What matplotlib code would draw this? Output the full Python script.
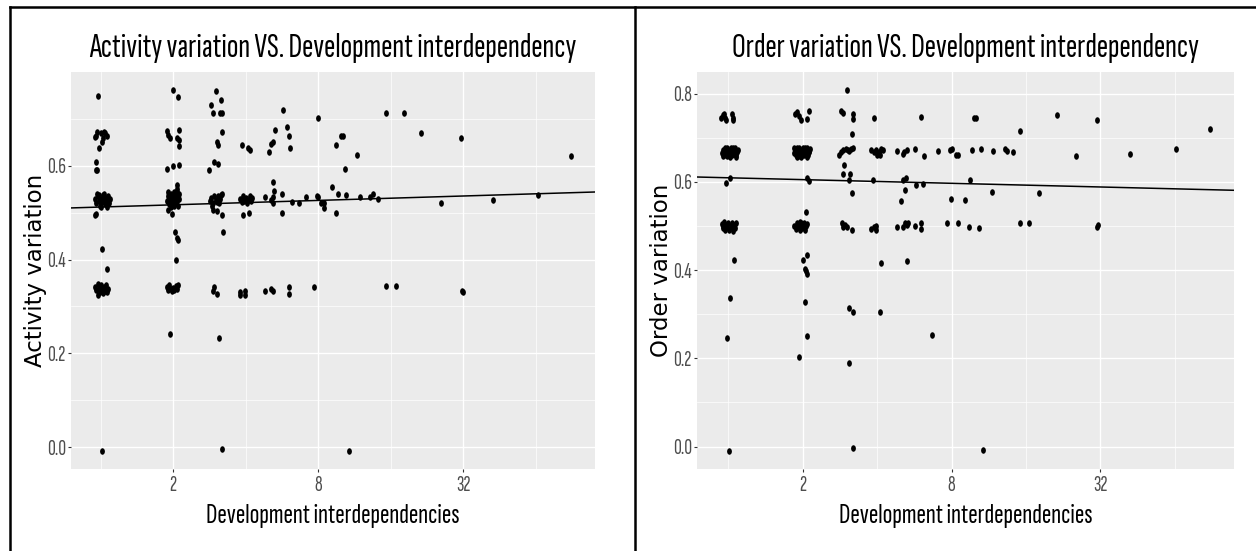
import numpy as np
import matplotlib
matplotlib.use('Agg')
import matplotlib.pyplot as plt
from matplotlib.path import Path
from matplotlib.lines import Line2D
from matplotlib.ticker import FixedLocator, NullFormatter
from matplotlib import font_manager as fm
from matplotlib.font_manager import FontProperties
from matplotlib.textpath import TextPath

# ---------------- data (jittered positions) ----------------
act_x = [
    0.972, 0.945, 0.969, 1.000, 1.014, 1.033, 1.057, 0.985, 0.954, 1.045, 1.020, 0.960, 0.969, 0.954,
    0.95, 0.96, 0.97, 0.98, 0.99, 1.00, 1.01, 1.02, 1.03, 1.04, 1.05, 1.06, 1.07, 1.08, 1.09, 0.965, 1.00, 1.035, 1.065, 0.985,
    0.945, 0.960, 1.014, 1.057, 0.95, 0.96, 0.97, 0.98, 0.99, 1.00, 1.01, 1.02, 1.03, 1.04, 1.05, 1.06, 1.07, 0.975, 1.008,
    1.988, 2.092, 1.878, 1.907, 1.937, 2.105, 2.112, 2.105, 2.078, 1.878, 2.000, 2.112, 2.078, 2.065,
    1.88, 1.90, 1.92, 1.94, 1.96, 1.98, 2.00, 2.02, 2.04, 2.06, 2.08, 2.10, 2.12, 1.95, 2.01, 2.07, 2.09, 1.91, 2.03, 1.99, 2.05, 2.11,
    1.895, 1.975, 2.032, 2.065, 2.098, 2.045, 1.89, 1.91, 1.93, 1.95, 1.97, 1.99, 2.02, 2.05, 2.08, 2.10, 1.937,
    3.010, 2.860, 2.916, 3.167, 3.127, 3.188, 3.188, 3.048, 3.078, 2.825, 2.953, 3.068,
    2.84, 2.88, 2.92, 2.96, 3.00, 3.04, 3.08, 3.12, 3.16, 3.20, 2.90, 3.10,
    2.916, 3.048, 3.188, 3.209, 2.953, 2.916, 3.048, 3.097, 3.198,
    3.848, 4.076, 4.167, 3.80, 3.85, 3.90, 3.95, 4.00, 4.05, 4.10, 4.15, 4.20, 4.23, 3.909, 4.141, 3.800, 3.972, 3.972, 3.800,
    5.015, 5.113, 5.278, 5.212, 4.797, 5.212, 5.261, 5.212, 5.080, 5.212, 4.811, 5.113, 5.212,
    5.736, 5.922, 6.037, 6.113, 5.68, 5.68, 6.232, 6.075, 6.075, 6.686, 7.105, 8.0, 7.897, 8.017, 7.716, 8.2, 8.49, 8.43,
    9.10, 9.51, 9.92, 10.1, 9.51, 9.71, 10.34, 10.48, 10.78, 11.63, 11.88, 13.18, 13.45, 14.22, 15.24, 15.24,
    18.13, 16.8, 21.4, 25.8, 31.3, 31.6, 31.8, 42.5, 65.3, 89.9,
]
act_y = [
    0.748, 0.661, 0.673, 0.669, 0.650, 0.673, 0.664, 0.638, 0.664, 0.670, 0.660, 0.607, 0.591, 0.590,
    0.530, 0.520, 0.535, 0.525, 0.515, 0.530, 0.522, 0.538, 0.527, 0.518, 0.532, 0.525, 0.535, 0.520, 0.530, 0.540, 0.512, 0.540, 0.512, 0.537,
    0.496, 0.497, 0.422, 0.379, 0.342, 0.335, 0.348, 0.338, 0.330, 0.345, 0.336, 0.328, 0.342, 0.334, 0.345, 0.330, 0.338, 0.325, -0.008,
    0.762, 0.747, 0.675, 0.666, 0.659, 0.676, 0.654, 0.643, 0.659, 0.593, 0.600, 0.602, 0.560, 0.551,
    0.525, 0.535, 0.518, 0.530, 0.540, 0.522, 0.532, 0.515, 0.528, 0.538, 0.525, 0.533, 0.530, 0.512, 0.545, 0.545, 0.515, 0.545, 0.538, 0.528, 0.520, 0.540,
    0.506, 0.497, 0.458, 0.447, 0.442, 0.398, 0.342, 0.335, 0.345, 0.338, 0.332, 0.340, 0.336, 0.343, 0.338, 0.345, 0.242,
    0.759, 0.730, 0.712, 0.740, 0.712, 0.712, 0.673, 0.650, 0.645, 0.591, 0.607, 0.603,
    0.525, 0.532, 0.520, 0.535, 0.528, 0.522, 0.536, 0.530, 0.538, 0.540, 0.515, 0.520,
    0.506, 0.504, 0.494, 0.458, 0.342, 0.334, 0.327, 0.232, -0.004,
    0.645, 0.638, 0.634, 0.530, 0.522, 0.535, 0.525, 0.532, 0.520, 0.528, 0.536, 0.525, 0.532, 0.496, 0.499, 0.330, 0.334, 0.325, 0.325,
    0.629, 0.646, 0.676, 0.650, 0.533, 0.565, 0.547, 0.533, 0.526, 0.520, 0.334, 0.337, 0.334,
    0.718, 0.682, 0.664, 0.638, 0.540, 0.499, 0.522, 0.341, 0.327, 0.520, 0.533, 0.702, 0.536, 0.533, 0.341, 0.521, 0.510, 0.521,
    0.555, 0.645, 0.664, 0.664, 0.499, 0.540, 0.594, 0.538, -0.008, 0.622, 0.533, 0.533, 0.540, 0.529, 0.712, 0.343,
    0.712, 0.343, 0.669, 0.521, 0.660, 0.334, 0.331, 0.527, 0.538, 0.621,
]

ord_x = [
    0.951, 0.966, 0.981, 1.035, 1.045, 0.937, 0.957, 1.040,
    0.94, 0.95, 0.96, 0.97, 0.98, 0.99, 1.00, 1.01, 1.02, 1.03, 1.04, 1.05, 1.06, 1.07, 1.08, 1.09, 0.955, 0.985, 1.015, 1.045, 1.075, 0.965, 1.025, 1.055,
    1.019, 0.981,
    0.94, 0.95, 0.96, 0.97, 0.98, 0.99, 1.00, 1.01, 1.02, 1.03, 1.04, 1.05, 1.06, 1.07, 0.955, 1.035,
    1.058, 1.013, 0.988, 1.006,
    1.888, 1.930, 1.960, 2.073, 2.119, 1.853,
    1.84, 1.86, 1.88, 1.90, 1.92, 1.94, 1.96, 1.98, 2.00, 2.02, 2.04, 2.06, 2.08, 2.10, 2.12, 1.85, 1.89, 1.93, 1.97, 2.01, 2.05, 2.09, 2.13, 1.87, 1.95, 2.03, 2.11, 1.99,
    2.086, 2.119, 2.054,
    1.85, 1.87, 1.89, 1.91, 1.93, 1.95, 1.97, 1.99, 2.01, 2.03, 2.05, 2.07, 2.09, 1.94,
    2.086, 2.010, 2.054, 2.086, 2.041, 2.041, 2.073, 1.930,
    3.031, 2.866, 2.920, 3.196, 3.196, 3.156, 2.805, 2.848, 2.920, 2.985, 3.050, 3.127, 3.187, 3.089,
    2.938, 2.912, 3.108, 3.069, 3.167, 2.894, 2.956, 3.012, 2.920, 3.176, 3.069, 3.206, 3.089, 3.187,
    3.890, 3.771, 3.866, 3.951, 4.076, 4.165, 4.243, 3.989, 4.101, 3.842, 3.782, 3.866, 3.951, 3.951, 4.165, 4.113,
    4.792, 5.148, 5.278, 5.688, 5.070, 5.085, 5.229, 5.180, 4.990, 4.806, 5.070, 5.180, 5.344, 5.278, 5.278,
    6.016, 6.207, 5.741, 6.110, 5.705, 6.016, 6.016, 6.689, 7.03, 7.914, 8.04, 8.35, 8.47, 7.96, 7.67, 8.47, 9.10, 9.45, 9.54,
    10.02, 9.86, 9.72, 10.48, 10.34, 10.7, 11.63, 11.80, 13.18, 13.45, 14.12, 15.14, 15.14, 16.45, 18.0, 21.4,
    25.5, 30.9, 31.1, 31.3, 42.2, 64.9, 88.6,
]
ord_y = [
    0.751, 0.746, 0.741, 0.755, 0.746, 0.746, 0.755, 0.741,
    0.665, 0.672, 0.660, 0.676, 0.668, 0.658, 0.672, 0.664, 0.676, 0.660, 0.670, 0.664, 0.676, 0.660, 0.668, 0.672, 0.658, 0.678, 0.657, 0.678, 0.657, 0.667, 0.668, 0.668,
    0.608, 0.598,
    0.505, 0.495, 0.509, 0.490, 0.502, 0.497, 0.507, 0.492, 0.500, 0.506, 0.489, 0.503, 0.495, 0.508, 0.500, 0.497,
    0.424, 0.337, 0.247, -0.010,
    0.758, 0.749, 0.741, 0.743, 0.761, 0.753,
    0.665, 0.672, 0.660, 0.676, 0.668, 0.658, 0.672, 0.664, 0.676, 0.660, 0.670, 0.664, 0.676, 0.660, 0.668, 0.678, 0.657, 0.678, 0.657, 0.668, 0.678, 0.657, 0.674, 0.667, 0.666, 0.667, 0.670, 0.660,
    0.608, 0.602, 0.532,
    0.500, 0.493, 0.506, 0.497, 0.503, 0.490, 0.508, 0.495, 0.501, 0.506, 0.492, 0.499, 0.505, 0.509,
    0.434, 0.424, 0.398, 0.392, 0.402, 0.328, 0.251, 0.202,
    0.809, 0.761, 0.756, 0.755, 0.743, 0.709, 0.660, 0.668, 0.672, 0.675, 0.673, 0.675, 0.678, 0.670,
    0.639, 0.617, 0.617, 0.604, 0.575, 0.506, 0.502, 0.498, 0.498, 0.492, 0.313, 0.305, 0.190, -0.004,
    0.746, 0.672, 0.668, 0.673, 0.668, 0.675, 0.673, 0.660, 0.660, 0.604, 0.494, 0.498, 0.500, 0.491, 0.417, 0.304,
    0.669, 0.668, 0.673, 0.675, 0.663, 0.604, 0.608, 0.581, 0.557, 0.497, 0.498, 0.506, 0.507, 0.502, 0.420,
    0.747, 0.659, 0.592, 0.596, 0.500, 0.507, 0.494, 0.252, 0.669, 0.672, 0.675, 0.660, 0.660, 0.562, 0.507, 0.506, 0.558, 0.498, 0.604,
    0.746, 0.746, 0.673, 0.675, 0.496, -0.009, 0.578, 0.669, 0.675, 0.669, 0.667, 0.715, 0.508, 0.508, 0.574, 0.751,
    0.659, 0.740, 0.498, 0.502, 0.663, 0.675, 0.719,
]

# linear fit: y = intercept + slope * log2(x)
act_fit = [0.512, 0.0047]
ord_fit = [0.6094, -0.00417]

x_ticks = [2, 8, 32]
x_tick_labels = ['2', '8', '32']
x_minor = [1, 4, 16, 64]
act_yticks = [0.0, 0.2, 0.4, 0.6]
ord_yticks = [0.0, 0.2, 0.4, 0.6, 0.8]

titles = ['Activity variation VS. Development interdependency',
          'Order variation VS. Development interdependency']
ylabels = ['Activity variation', 'Order variation']
xlabel = 'Development interdependencies'

assert len(act_x) == len(act_y) and len(ord_x) == len(ord_y)

# ---------------- font choice (reference text is strongly condensed) ----------------
W, H = 1256, 551
PX_PER_PT = 100 / 72.0


def ink(s, fp):
    ext = TextPath((0, 0), s, size=100, prop=fp).get_extents()
    return ext.width / 100.0, ext.height / 100.0   # per 1 pt of font size


cands = []
seen = set()
for f in fm.fontManager.ttflist:
    nm = f.name
    if any(k in nm for k in ('Mono', 'Serif', 'CJK', 'Math', 'Symbol', 'Emoji')):
        continue
    if not ('Sans' in nm or nm in ('Roboto', 'Lato', 'Inter', 'Roboto Condensed')):
        continue
    if f.style != 'normal':
        continue
    w = f.weight
    ok = (w in ('normal', 'regular', 'book')) if isinstance(w, str) else (w == 400)
    if not ok or f.fname in seen:
        continue
    seen.add(f.fname)
    try:
        fp = FontProperties(fname=f.fname)
        wd, _ = ink(xlabel, fp)
        _, hc = ink('H', fp)
        if hc > 0:
            cands.append((wd / hc, fp))
    except Exception:
        pass

# reference ratio of x-label width to cap height ~ 244 / 19.5
target_ratio = 244 / 19.5
if cands:
    FP_NARROW = min(cands, key=lambda c: abs(np.log(c[0] / target_ratio)))[1]
else:
    FP_NARROW = FontProperties(family='Liberation Sans')
FP_WIDE = FontProperties(family='DejaVu Sans')


def fit_size(fp, s, width_px, cap_px, glyph='H'):
    wd, _ = ink(s, fp)
    _, hc = ink(glyph, fp)
    s_w = width_px / (wd * PX_PER_PT)
    s_h = cap_px / (hc * PX_PER_PT)
    return min(s_h, s_w * 1.03)


def fp_sized(fp, size):
    f = fp.copy()
    f.set_size(size)
    return f


title_size = fit_size(FP_NARROW, titles[0], 474, 23.7)
xlab_size = fit_size(FP_NARROW, xlabel, 244, 19.5)
tick_size = fit_size(FP_NARROW, '0.0', 19.3, 14.5, glyph='0')
wd_y, _ = ink(ylabels[0], FP_WIDE)
ylab_size = min(204 / (wd_y * PX_PER_PT), 16.5)

# ---------------- figure ----------------
BG = '#EBEBEB'
fig = plt.figure(figsize=(W / 100, H / 100), dpi=100)
fig.patch.set_facecolor('white')

circ = Path.unit_circle()
ell = Path(circ.vertices * np.array([0.74, 1.0]), circ.codes)


def px_rect(x0, x1, ytop, ybot):
    return [x0 / W, 1 - ybot / H, (x1 - x0) / W, (ybot - ytop) / H]


panels = [
    dict(rect=px_rect(71, 595, 71.7, 469), x=act_x, y=act_y, fit=act_fit, yt=act_yticks,
         title=titles[0], ylabel=ylabels[0], ylab_x=42.5),
    dict(rect=px_rect(697, 1234, 71.7, 469), x=ord_x, y=ord_y, fit=ord_fit, yt=ord_yticks,
         title=titles[1], ylabel=ylabels[1], ylab_x=668),
]

for p in panels:
    ax = fig.add_axes(p['rect'])
    ax.set_facecolor(BG)
    ax.set_xscale('log', base=2)
    ax.scatter(p['x'], p['y'], s=22, marker=ell, c='black', linewidths=0, zorder=3)
    ax.margins(x=0.05, y=0.05)
    ax.autoscale_view()
    xl = ax.get_xlim()
    yl = ax.get_ylim()
    xs = np.logspace(np.log2(xl[0]), np.log2(xl[1]), 50, base=2)
    ax.plot(xs, p['fit'][0] + p['fit'][1] * np.log2(xs), color='black', lw=1.1, zorder=4)
    ax.set_xlim(xl)
    ax.set_ylim(yl)

    ax.set_xticks(x_ticks)
    ax.set_xticklabels(x_tick_labels, fontproperties=fp_sized(FP_NARROW, tick_size))
    ax.xaxis.set_minor_locator(FixedLocator(x_minor))
    ax.xaxis.set_minor_formatter(NullFormatter())
    ax.set_yticks(p['yt'])
    ax.set_yticklabels(['%.1f' % v for v in p['yt']], fontproperties=fp_sized(FP_NARROW, tick_size))
    ax.yaxis.set_minor_locator(FixedLocator([v + 0.1 for v in p['yt']]))
    ax.yaxis.set_minor_formatter(NullFormatter())

    ax.grid(which='major', color='white', lw=1.0, zorder=0)
    ax.grid(which='minor', color='white', lw=0.5, zorder=0)
    ax.set_axisbelow(True)
    for s in ax.spines.values():
        s.set_visible(False)
    ax.tick_params(which='major', length=2.5, width=0.8, color='#333333', labelcolor='#4D4D4D',
                   labelsize=tick_size)
    ax.tick_params(axis='x', which='major', pad=2.8)
    ax.tick_params(axis='y', which='major', pad=1.2)
    ax.tick_params(which='minor', length=0)

    x0, yb, w, h = p['rect']
    cx = x0 + w / 2
    fig.text(cx, 1 - 57 / H, p['title'], ha='center', va='baseline',
             fontproperties=fp_sized(FP_NARROW, title_size), color='black')
    fig.text(cx, 1 - 523 / H, xlabel, ha='center', va='baseline',
             fontproperties=fp_sized(FP_NARROW, xlab_size), color='black')
    fig.text(p['ylab_x'] / W, 1 - 270 / H, p['ylabel'], ha='center', va='baseline',
             rotation=90, rotation_mode='anchor',
             fontproperties=fp_sized(FP_WIDE, ylab_size), color='black')

# frame lines around the panels (top, left, divider)
lw_frame = 1.8
fig.add_artist(Line2D([10 / W, 1], [1 - 7 / H, 1 - 7 / H], transform=fig.transFigure,
                      color='black', lw=lw_frame))
fig.add_artist(Line2D([10 / W, 10 / W], [0, 1 - 7 / H], transform=fig.transFigure,
                      color='black', lw=lw_frame))
fig.add_artist(Line2D([635 / W, 635 / W], [0, 1 - 7 / H], transform=fig.transFigure,
                      color='black', lw=lw_frame))

fig.savefig('out.png', dpi=100, facecolor='white')
